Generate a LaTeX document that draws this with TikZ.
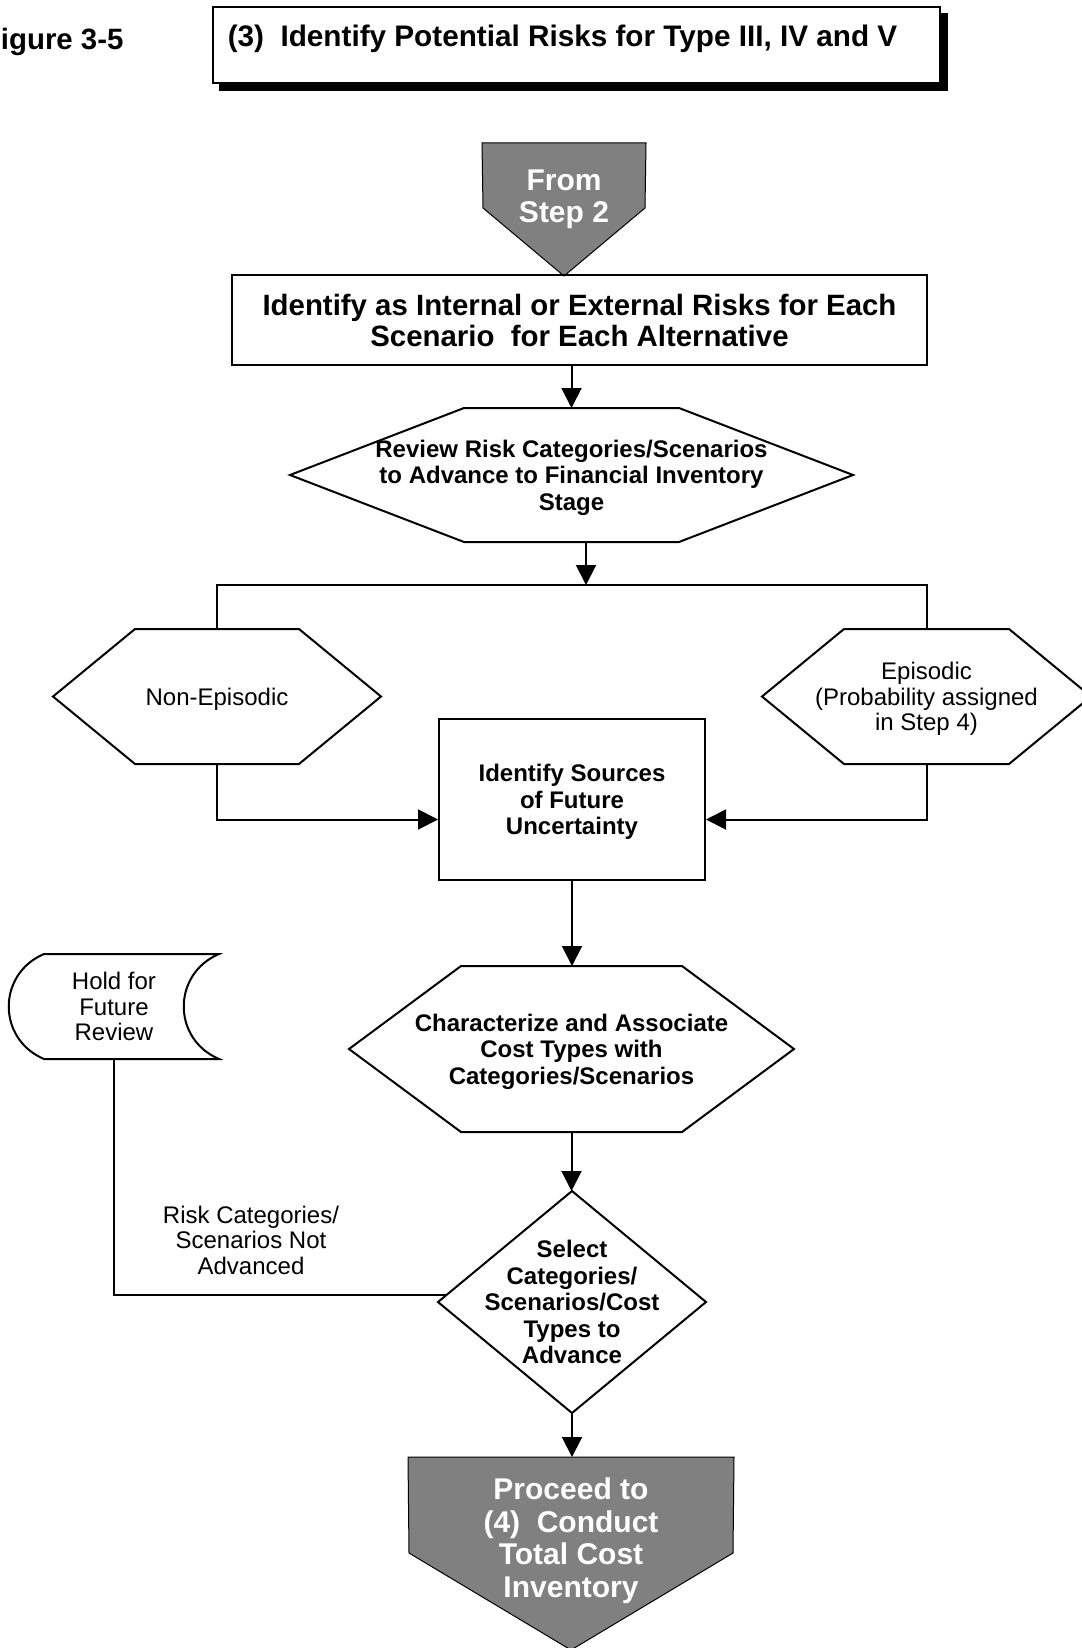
\documentclass[tikz,border=0pt]{standalone}
\usepackage{fontspec}
\setmainfont{Liberation Sans}
\usetikzlibrary{calc,arrows.meta,backgrounds}
\definecolor{stepgray}{HTML}{808080}
% hexagon outline around a sized node; #2 is the length of the slanted part
\newcommand\hexoutline[2]{%
  \draw (#1.west) -- ([xshift=#2]#1.north west) -- ([xshift=-#2]#1.north east)
    -- (#1.east) -- ([xshift=-#2]#1.south east) -- ([xshift=#2]#1.south west) -- cycle;}
\begin{document}
\begin{tikzpicture}[x=1pt,y=-1pt,line width=2pt,
  arr/.style={-{Triangle[length=20pt,width=20pt]}},
  bftext/.style={align=center,inner sep=0pt,text depth=0pt,font=\fontsize{24}{26.5}\selectfont\bfseries},
  rmtext/.style={align=center,inner sep=0pt,text depth=0pt,font=\fontsize{24}{25.5}\selectfont},
  bigtext/.style={align=center,inner sep=0pt,font=\fontsize{29.4}{31}\selectfont\bfseries},
  steptext/.style={align=center,inner sep=0pt,text depth=0pt,text=white,font=\fontsize{30}{32.5}\selectfont\bfseries},
  sz/.style 2 args={minimum width=#1,minimum height=#2},
]
\useasboundingbox (0,0) rectangle (1081,1648);

% heading
\node[bigtext,anchor=west] (fig) at (-18,42) {Figure 3-5};
\node[draw,line width=1.5pt,fill=white,bigtext,sz={727pt}{76pt}] (title) at (576.5,45)
  {\fontsize{29.7}{31}\selectfont\raisebox{-1.5pt}[0pt][0pt]{\hspace*{-28pt}(3)\ \ Identify Potential Risks for Type III, IV and V}};

% entry and exit steps
\node[steptext,sz={162pt}{104pt}] (from) at (564,196) {From\\Step 2};
\node[steptext,sz={324pt}{159pt}] (proceed) at (571,1537.5) {Proceed to\\(4)\ \ Conduct\\Total Cost\\Inventory};

% process boxes
\node[draw,bigtext,sz={695pt}{90pt}] (ident) at (579.5,320)
  {Identify as Internal or External Risks for Each\\Scenario\ \ for Each Alternative};
\node[bftext,sz={561pt}{132pt}] (review) at (571.5,475)
  {Review Risk Categories/Scenarios\\to Advance to Financial Inventory\\Stage};
\hexoutline{review}{174pt}
\node[rmtext,sz={326pt}{133pt}] (nonepi) at (217,696.5) {Non-Episodic};
\hexoutline{nonepi}{82pt}
\node[rmtext,sz={327pt}{133pt}] (epi) at (926.5,696.5) {Episodic\\(Probability assigned\\in Step 4)};
\hexoutline{epi}{82pt}
\node[draw,bftext,sz={266pt}{161pt}] (src) at (572,799.5) {Identify Sources\\of Future\\Uncertainty};
\node[bftext,sz={443pt}{164pt}] (char) at (571.5,1049)
  {Characterize and Associate\\Cost Types with\\Categories/Scenarios};
\hexoutline{char}{112pt}
\node[bftext,sz={266pt}{220pt}] (sel) at (572,1302)
  {Select\\Categories/\\Scenarios/Cost\\Types to\\Advance};
\draw (sel.north) -- (sel.east) -- (sel.south) -- (sel.west) -- cycle;

% stored-data shape
\node[rmtext,sz={208pt}{103pt}] (hold) at (114,1006.5) {Hold for\\Future\\Review};
\draw ([xshift=35pt]hold.north west) -- (hold.north east)
  .. controls ($(hold.north east)+(-47,20)$) and ($(hold.south east)+(-47,-20)$) .. (hold.south east)
  -- ([xshift=35pt]hold.south west)
  .. controls ($(hold.south west)+(-12,-20)$) and ($(hold.north west)+(-12,20)$) .. ([xshift=35pt]hold.north west) -- cycle;

\node[rmtext] (notadv) at (251,1240) {Risk Categories/\\Scenarios Not\\Advanced};

% connectors
\coordinate (split) at (586,585);
\draw[arr] (ident.south -| review.north) -- (review.north);
\draw[arr] (review.south -| split) -- (split);
\draw (nonepi.north) |- (split) -| (epi.north);
\draw[arr] (nonepi.south) |- ([yshift=-20pt]src.west);
\draw[arr] (epi.south) |- ([yshift=-20pt]src.east);
\draw[arr] (src.south) -- (src.south |- char.north);
\draw[arr] (char.south) -- (char.south |- sel.north);
\draw ($(sel.west)!0.06!(sel.north)$) -| (hold.south);
\draw[arr] (sel.south) -- (sel.south |- proceed.north);

\begin{scope}[on background layer]
  \fill ([shift={(7pt,-7pt)}]title.south west) rectangle ([shift={(7pt,-7pt)}]title.north east);
  \filldraw[fill=stepgray,draw=black,line width=1pt]
    (from.north west) -- (from.north east) -- (645,208) -- (564,276) -- (483,208) -- cycle;
  \filldraw[fill=stepgray,draw=black,line width=1pt]
    (proceed.north west) -- (proceed.north east) -- (733,1553) -- (571,1650) -- (409,1553) -- cycle;
\end{scope}
\end{tikzpicture}
\end{document}
